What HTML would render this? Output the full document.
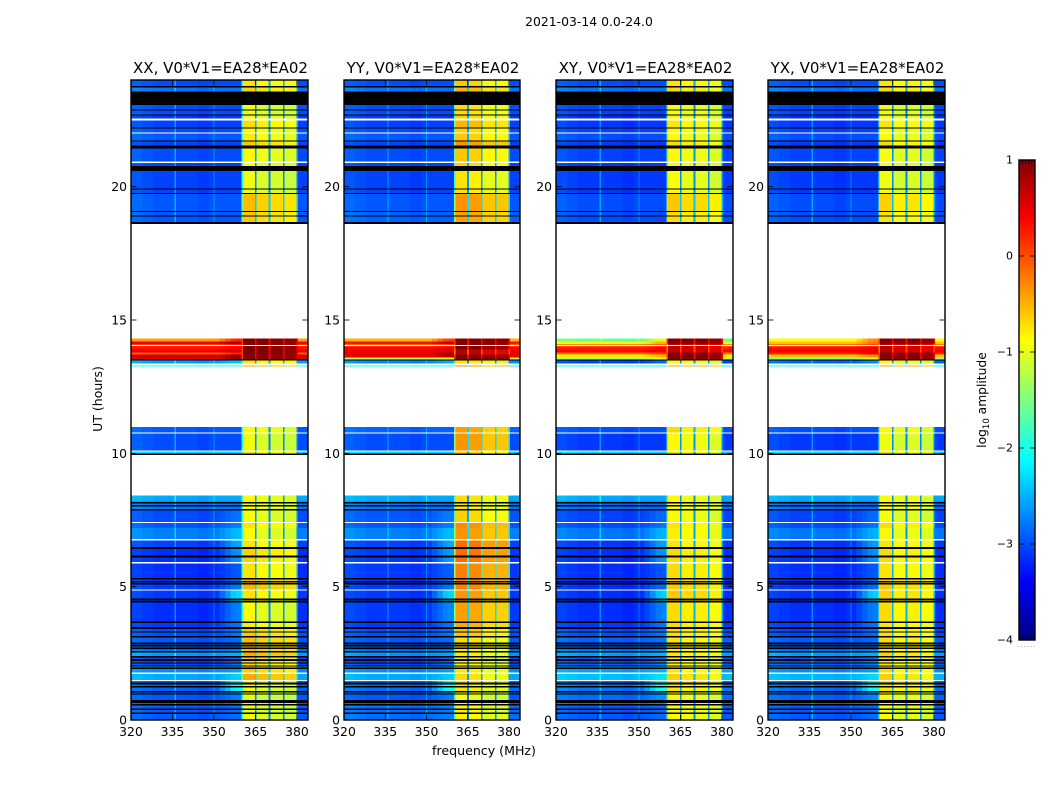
<!DOCTYPE html>
<html lang="en">
<head>
<meta charset="utf-8">
<title>2021-03-14 0.0-24.0</title>
<style>
html,body{margin:0;padding:0;background:#fff;width:1050px;height:800px;overflow:hidden}
svg{display:block}
text{font-family:"DejaVu Sans","Liberation Sans",sans-serif;fill:#000}
</style>
</head>
<body>
<svg id="figure" xmlns="http://www.w3.org/2000/svg" width="1050" height="800" viewBox="0 0 1050 800">
<text x="589" y="26" font-size="12.4" text-anchor="middle">2021-03-14 0.0-24.0</text>
<text x="102" y="399" font-size="12.5" text-anchor="middle" transform="rotate(-90 102 399)">UT (hours)</text>
<text x="484" y="755" font-size="12.6" text-anchor="middle">frequency (MHz)</text>
<text x="986" y="400" font-size="12.3" text-anchor="middle" transform="rotate(-90 986 400)">log<tspan font-size="8.5" dy="3">10</tspan><tspan dy="-3"> amplitude</tspan></text>
<text x="1017" y="647" font-size="7" letter-spacing="1" fill="#888" style="fill:#888">......</text>
</svg>
<script>
// Panels
const panelTitles = ["XX, V0*V1=EA28*EA02", "YY, V0*V1=EA28*EA02", "XY, V0*V1=EA28*EA02", "YX, V0*V1=EA28*EA02"];
const xTicks = [320, 335, 350, 365, 380];
const yTicks = [0, 5, 10, 15, 20];
const colorTicks = [1, 0, -1, -2, -3, -4];

// Time blocks (UT hours)
const blockStart = [0,.6,1.05,1.47,1.75,2.05,2.4,2.6,3.1,3.45,3.7,4.45,4.85,5.3,5.9,6.45,6.78,7.2,7.4,7.9,8.2, 10,10.1,10.78, 13.26,13.36,13.5,13.6,13.7,13.78,13.9,14,14.1,14.2, 18.6,19.09,19.76,20.6,20.94,21.43,21.74,22.02,22.21,22.5,22.71,23.06,23.73];
const blockEnd   = [.6,1.05,1.47,1.75,2.05,2.4,2.6,3.1,3.45,3.7,4.45,4.85,5.3,5.9,6.45,6.78,7.2,7.4,7.9,8.2,8.42, 10.06,10.75,10.98, 13.3,13.5,13.6,13.7,13.78,13.9,14,14.1,14.2,14.3, 19.09,19.76,20.6,20.94,21.43,21.74,22.02,22.21,22.5,22.71,23.06,23.73,24];

// log10 amplitude, out-of-band background
const bgXX = [-2.95,-2.95,-2.9,-2.55,-2.7,-3.05,-2.6,-2.95,-3,-3.1,-3.15,-3.1,-3.1,-3.15,-3.15,-3.05,-2.75,-2.95,-3,-2.8,-2.55, -2.3,-3,-2.95, -2.1,-2.6,.5,.6,-.1,.45,.3,.1,.45,-.4, -2.95,-2.95,-3.05,-3.05,-3,-3.05,-2.95,-3,-3.05,-3.1,-3,-2.8,-3];
const bgYY = [-2.85,-2.95,-2.85,-2.55,-2.7,-3.05,-2.65,-2.95,-3,-3.1,-3.1,-3.1,-3.1,-3.1,-3.1,-3.05,-2.75,-2.95,-2.95,-2.8,-2.55, -2.3,-3,-2.9, -2.1,-2.7,-1.2,.45,.5,.45,.35,-.1,.3,-.5, -2.9,-2.95,-3.05,-3.05,-3,-3.05,-2.95,-3,-3.05,-3.1,-3,-2.8,-3];
const bgXY = [-2.95,-2.85,-2.8,-2.45,-2.6,-2.95,-2.6,-2.9,-3,-3.1,-3.15,-3.15,-3.15,-3.15,-3.15,-3.1,-2.8,-3,-3.05,-2.85,-2.55, -2.3,-3.1,-3, -2.1,-3.05,-1.3,-.8,-.2,.35,.25,-.3,-.9,-1.6, -3,-3,-3.1,-3.1,-3.05,-3.1,-3,-3.05,-3.1,-3.15,-3.05,-2.8,-3];
const bgYX = [-2.95,-2.9,-2.85,-2.5,-2.7,-2.95,-2.6,-2.95,-3.05,-3.1,-3.15,-3.15,-3.15,-3.15,-3.15,-3.1,-2.8,-3,-3.05,-2.85,-2.55, -2.3,-3.1,-3, -2.1,-2.9,-1.4,-.6,.2,.4,.3,-.2,-.6,-.9, -3,-3,-3.1,-3.1,-3.05,-3.1,-3,-3.05,-3.1,-3.15,-3.05,-2.8,-3];

// log10 amplitude inside the 360-380 MHz band
const gateXX = [-1.05,-1.1,-1,-.55,-.7,-.75,-.55,-.65,-.7,-.9,-1,-.85,-.6,-.85,-.75,-.85,-1,-.85,-1,-.95,-.95, -.85,-1.05,-.95, -.5,-.85,1,1,1,1,1,1,1,1, -.7,-.65,-1.05,-1,-.95,-.7,-.9,-.95,-.8,-1,-1.05,-.75,-.85];
const gateYY = [-1,-1.1,-.95,-.9,-.95,-1,-.95,-.9,-.75,-.65,-.6,-.55,-.45,-.45,-.35,-.35,-.55,-.5,-.85,-.95,-.9, -.85,-.55,-.6, -.5,-.95,1,1,.55,.55,.9,.9,1,1, -.6,-.55,-.95,-.85,-.8,-.55,-.8,-.85,-.7,-.85,-.9,-.7,-.8];
const gateXY = [-.95,-.95,-.85,-.75,-.85,-.9,-.85,-.85,-.8,-.8,-.8,-.7,-.7,-.8,-.8,-.85,-.9,-.85,-.95,-.95,-.95, -.85,-.95,-.8, -.5,-.95,1,1,1,.6,.6,.6,1,1, -.8,-.7,-1,-.95,-.95,-.8,-.95,-.95,-.85,-.95,-1,-.8,-.85];
const gateYX = [-1,-.95,-.85,-.75,-.8,-.85,-.75,-.8,-.8,-.85,-.8,-.75,-.7,-.85,-.8,-.85,-.95,-.8,-1,-.95,-.95, -.85,-1.05,-.95, -.5,-.95,1,1,1,.6,.6,.6,1,1, -.85,-.75,-1.05,-1,-1,-.8,-.95,-1,-.85,-1,-1.05,-.8,-.85];
const rampBoost = [.1,.2,.8,.2,.1,.2,.1,.1,.2,.3,.4,.8,.3,.2,.5,.5,.3,.2,.2,0,0, 0,0,0, 0,.2,.4,.3,.3,.1,.1,.2,.4,.6, 0,0,0,0,0,0,0,0,0,0,0,0,0];

// Frequency bins below the band (MHz) with their level offsets
const binEdges = [320,324,328,332,335.8,336.2,340,344,348,349.8,350.2,352,354,356,358,360];
const binOffset = [.1,.05,0,0,.45,0,0,-.05,0,.35,0,0,0,0,0];
const binRamp = [0,0,0,0,0,0,0,0,0,0,0,.3,.6,.9,1];
// In-band channel edges (MHz)
const gateEdges = [360.5,364.8,365.4,369.8,370.4,374.9,375.5,379.9];
const gateOffsetXX = [.1,0,-.05,-.1];
const gateOffsetYY = [.2,.15,-.05,-.05];
const gateOffsetXY = [.1,0,0,-.1];
const gateOffsetYX = [.1,-.05,0,-.1];

// Flagged (black) rows, UT hours
const flagStart = [.22,.38,.54,.63,.96,1.03,1.22,1.34,1.91,2.0,2.11,2.22,2.34,2.53,2.66,2.76,2.84,3.09,3.28,3.41,3.63,4.41,4.49,5.09,5.17,5.26,6.1,6.42,7.85,8.0,8.12,9.93,13.49,18.6,18.89,19.05,19.725,19.89,20.59,21.425,21.7,22.175,22.675,22.86,23.06,23.725];
const flagEnd   = [.28,.44,.60,.75,1.0,1.09,1.28,1.40,1.97,2.05,2.15,2.28,2.40,2.59,2.72,2.82,2.90,3.15,3.32,3.48,3.69,4.47,4.55,5.15,5.22,5.32,6.16,6.48,7.91,8.06,8.18,10.0,13.52,18.675,18.925,19.09,19.76,19.925,20.775,21.55,21.74,22.21,22.71,22.9,23.5625,23.775];
// White (no-data) hairlines, UT hours
const whiteStart = [1.46,1.73,4.85,5.87,6.73,7.38,10.75,14.02,20.89,21.99,22.475];
const whiteEnd   = [1.5,1.78,4.9,5.92,6.78,7.43,10.78,14.06,20.94,22.025,22.55];

const bgByPanel = [bgXX, bgYY, bgXY, bgYX];
const gateByPanel = [gateXX, gateYY, gateXY, gateYX];
const gateOffsetByPanel = [gateOffsetXX, gateOffsetYY, gateOffsetXY, gateOffsetYX];

const panelLeft = [131, 344, 556, 768];
const panelRight = [308, 520, 733, 945];
const plotTop = 80, plotBottom = 720, cbLeft = 1019, cbRight = 1035, cbTop = 160, cbBottom = 640;

const SVGNS = "http://www.w3.org/2000/svg";
const fig = document.getElementById("figure");

function jet(v) {
  const t = Math.max(0, Math.min(1, (v + 4) / 5));
  const c = x => Math.round(255 * Math.max(0, Math.min(1, 1.5 - Math.abs(4 * t - x))));
  return "rgb(" + c(3) + "," + c(2) + "," + c(1) + ")";
}
function xScale(p, mhz) { return panelLeft[p] + (mhz - 320) * (panelRight[p] - panelLeft[p]) / 64; }
function yScale(ut) { return plotBottom - ut * (plotBottom - plotTop) / 24; }
function cbScale(v) { return cbTop + (1 - v) * (cbBottom - cbTop) / 5; }

function addRect(parent, x0, x1, y0, y1, fill) {
  const r = document.createElementNS(SVGNS, "rect");
  r.setAttribute("x", x0);
  r.setAttribute("width", Math.max(0, x1 - x0));
  r.setAttribute("y", y0);
  r.setAttribute("height", Math.max(0, y1 - y0));
  r.setAttribute("fill", fill);
  r.setAttribute("shape-rendering", "crispEdges");
  parent.appendChild(r);
  return r;
}
function addLine(parent, x1, y1, x2, y2, w) {
  const l = document.createElementNS(SVGNS, "line");
  l.setAttribute("x1", x1);
  l.setAttribute("y1", y1);
  l.setAttribute("x2", x2);
  l.setAttribute("y2", y2);
  l.setAttribute("stroke", "#000");
  l.setAttribute("stroke-width", w);
  parent.appendChild(l);
  return l;
}
function addText(parent, x, y, str, size, anchor) {
  const t = document.createElementNS(SVGNS, "text");
  t.setAttribute("x", x);
  t.setAttribute("y", y);
  t.setAttribute("font-size", size);
  t.setAttribute("text-anchor", anchor);
  t.textContent = str;
  parent.appendChild(t);
  return t;
}

panelTitles.forEach(function (title, p) {
  const g = document.createElementNS(SVGNS, "g");
  
  
  fig.appendChild(g);

  const bg = bgByPanel[p], gate = gateByPanel[p], offs = gateOffsetByPanel[p];
  blockStart.forEach(function (ut0, b) {
    const y0 = yScale(blockEnd[b]), y1 = yScale(ut0);
    // below-band bins
    binOffset.forEach(function (off, i) {
      const base = bg[b] + binRamp[i] * rampBoost[b];
      const lvl = bg[b] < -1.5 ? base + off : base;
      const cell = addRect(g, xScale(p, binEdges[i]), xScale(p, binEdges[i + 1]), y0, y1, jet(lvl));
      
      
    });
    // edge of band
    const edge = addRect(g, xScale(p, 360), xScale(p, gateEdges[0]), y0, y1, jet(gate[b] - 0.9));
    
    
    // gates and the notches between them
    for (let k = 0; k < 4; k++) {
      const lvl = gate[b] + offs[k];
      const cell = addRect(g, xScale(p, gateEdges[2 * k]), xScale(p, gateEdges[2 * k + 1]), y0, y1, jet(lvl));
      
      
      const nextEdge = k < 3 ? gateEdges[2 * k + 2] : 380.4;
      const notch = addRect(g, xScale(p, gateEdges[2 * k + 1]), xScale(p, nextEdge), y0, y1, jet(gate[b] < 0 ? gate[b] - 1.7 : gate[b] - 0.6));
      
      
    }
    // above band
    const hi = addRect(g, xScale(p, 380.4), xScale(p, 384), y0, y1, jet(bg[b]));
    
    
  });

  flagStart.forEach(function (ut0, i) {
    const r = addRect(g, panelLeft[p], panelRight[p], yScale(flagEnd[i]), yScale(ut0), "#000");
    
    
  });
  whiteStart.forEach(function (ut0, i) {
    const r = addRect(g, panelLeft[p], panelRight[p], yScale(whiteEnd[i]), yScale(ut0), "#fff");
    
    
  });

  const frame = document.createElementNS(SVGNS, "rect");
  frame.setAttribute("x", panelLeft[p]);
  frame.setAttribute("y", plotTop);
  frame.setAttribute("width", panelRight[p] - panelLeft[p]);
  frame.setAttribute("height", plotBottom - plotTop);
  frame.setAttribute("fill", "none");
  frame.setAttribute("stroke", "#000");
  frame.setAttribute("stroke-width", "1.4");
  
  
  g.appendChild(frame);

  xTicks.forEach(function (v) {
    const x = xScale(p, v);
    const tb = addLine(g, x, plotBottom, x, plotBottom - 5.5, 0.8);
    
    
    const tt = addLine(g, x, plotTop, x, plotTop + 5.5, 0.8);
    
    
    const lab = addText(g, x, 736, String(v), 12.4, "middle");
    
    
  });
  yTicks.forEach(function (v) {
    const y = yScale(v);
    const tl = addLine(g, panelLeft[p], y, panelLeft[p] + 5.5, y, 0.8);
    
    
    const tr = addLine(g, panelRight[p], y, panelRight[p] - 5.5, y, 0.8);
    
    
    const lab = addText(g, panelLeft[p] - 4, y + 4.5, String(v), 12.4, "end");
    
    
  });
  const ttl = addText(g, (panelLeft[p] + panelRight[p]) / 2 + 1, 73, title, 15, "middle");
  
  
});

// Colorbar
const cb = document.createElementNS(SVGNS, "g");


fig.appendChild(cb);
for (let y = cbTop; y < cbBottom; y += 2) {
  const s = addRect(cb, cbLeft, cbRight, y, y + 2, jet(1 - (y + 1 - cbTop) * 5 / (cbBottom - cbTop)));
  
  
}
const cbFrame = document.createElementNS(SVGNS, "rect");
cbFrame.setAttribute("x", cbLeft);
cbFrame.setAttribute("y", cbTop);
cbFrame.setAttribute("width", cbRight - cbLeft);
cbFrame.setAttribute("height", cbBottom - cbTop);
cbFrame.setAttribute("fill", "none");
cbFrame.setAttribute("stroke", "#000");
cbFrame.setAttribute("stroke-width", "1.4");


cb.appendChild(cbFrame);
colorTicks.forEach(function (v) {
  const y = cbScale(v);
  const a = addLine(cb, cbLeft, y, cbLeft + 5, y, 0.8);
  
  
  const b = addLine(cb, cbRight, y, cbRight - 5, y, 0.8);
  
  
  const lab = addText(cb, 1013, y + 3.5, v < 0 ? "\u2212" + Math.abs(v) : String(v), 11, "end");
  
  
});
[1022.5, 1025.5, 1028.5, 1031.5].forEach(function (x) {
  const up = addLine(cb, x, cbTop, x, cbTop + 4, 0.7);
  
  
  const dn = addLine(cb, x, cbBottom, x, cbBottom - 5, 0.7);
  
  
});
</script>
</body>
</html>
